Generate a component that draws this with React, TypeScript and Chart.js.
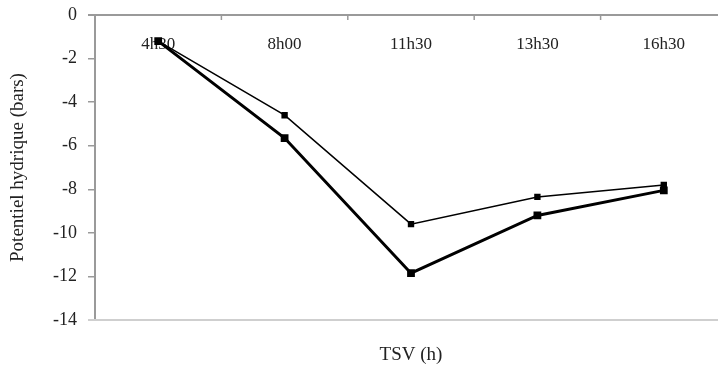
import React, { useEffect, useRef } from "react";
import { Chart, registerables } from "chart.js";

Chart.register(...registerables);

const categories = ["4h30", "8h00", "11h30", "13h30", "16h30"];
const seriesThin = [-1.2, -4.6, -9.6, -8.35, -7.8];
const seriesThick = [-1.2, -5.65, -11.85, -9.2, -8.05];
const yTicks = [0, -2, -4, -6, -8, -10, -12, -14];

const FONT = "'Liberation Serif', 'Times New Roman', serif";

const axisPlugin = {
  id: "excelAxes",
  beforeDatasetsDraw(chart: any) {
    const { ctx, chartArea, scales } = chart;
    const x = scales.x;
    const y = scales.y;
    const y0 = y.getPixelForValue(0);
    const yMin = y.getPixelForValue(-14);
    ctx.save();
    ctx.strokeStyle = "#cfcfcf";
    ctx.lineWidth = 2;
    ctx.beginPath();
    ctx.moveTo(chartArea.left - 7, yMin);
    ctx.lineTo(chartArea.right, yMin);
    ctx.stroke();
    ctx.strokeStyle = "#9a9a9a";
    ctx.lineWidth = 2;
    ctx.beginPath();
    ctx.moveTo(chartArea.left - 7, y0);
    ctx.lineTo(chartArea.right, y0);
    ctx.stroke();
    ctx.lineWidth = 1.5;
    for (let i = 0; i < categories.length - 1; i++) {
      const px = (x.getPixelForValue(i) + x.getPixelForValue(i + 1)) / 2;
      ctx.beginPath();
      ctx.moveTo(px, y0);
      ctx.lineTo(px, y0 + 5);
      ctx.stroke();
    }
    ctx.fillStyle = "#222";
    ctx.font = `17px ${FONT}`;
    ctx.textAlign = "center";
    ctx.textBaseline = "middle";
    categories.forEach((c, i) => {
      ctx.fillText(c, x.getPixelForValue(i), y0 + 30);
    });
    ctx.restore();
  },
  afterDraw(chart: any) {
    const { ctx, chartArea } = chart;
    ctx.save();
    ctx.fillStyle = "#222";
    ctx.font = `19px ${FONT}`;
    ctx.textAlign = "center";
    ctx.textBaseline = "middle";
    ctx.fillText("TSV (h)", (chartArea.left + chartArea.right) / 2, 355);
    ctx.restore();
  },
};

export default function App() {
  const ref = useRef<HTMLCanvasElement>(null);
  useEffect(() => {
    if (!ref.current) return;
    const chart = new Chart(ref.current, {
      type: "line",
      data: {
        labels: categories,
        datasets: [
          {
            label: "thin",
            data: seriesThin,
            borderColor: "#000",
            backgroundColor: "#000",
            borderWidth: 1.5,
            pointStyle: "rect",
            pointRadius: 4.5,
            pointBorderWidth: 0,
            tension: 0,
          },
          {
            label: "thick",
            data: seriesThick,
            borderColor: "#000",
            backgroundColor: "#000",
            borderWidth: 3,
            pointStyle: "rect",
            pointRadius: 5.5,
            pointBorderWidth: 0,
            tension: 0,
          },
        ],
      },
      options: {
        responsive: false,
        maintainAspectRatio: false,
        animation: false,
        devicePixelRatio: 1,
        layout: { padding: { left: 0, top: 15, right: 13, bottom: 59 } },
        plugins: {
          legend: { display: false },
          tooltip: { enabled: false },
        },
        scales: {
          x: {
            type: "category",
            display: false,
            offset: true,
          },
          y: {
            min: -14,
            max: 0,
            afterFit: (s: any) => {
              s.width = 95;
              s.paddingTop = 0;
              s.paddingBottom = 0;
            },
            afterBuildTicks: (s: any) => {
              s.ticks = yTicks.map((v) => ({ value: v }));
            },
            grid: {
              drawOnChartArea: false,
              tickLength: 7,
              color: "#9a9a9a",
              lineWidth: 1.5,
            },
            border: { color: "#9a9a9a", width: 2 },
            ticks: {
              color: "#222",
              font: { family: FONT, size: 18 },
              padding: 11,
            },
            title: {
              display: true,
              text: "Potentiel hydrique (bars)",
              color: "#222",
              font: { family: FONT, size: 19 },
              padding: { top: 7, bottom: 0 },
            },
          },
        },
      },
      plugins: [axisPlugin],
    });
    return () => chart.destroy();
  }, []);
  return (
    <div
      style={{
        position: "absolute",
        left: 0,
        top: 0,
        width: 718,
        height: 379,
        overflow: "hidden",
        background: "#fff",
      }}
    >
      <canvas ref={ref} width={740} height={379} style={{ display: "block" }} />
    </div>
  );
}
